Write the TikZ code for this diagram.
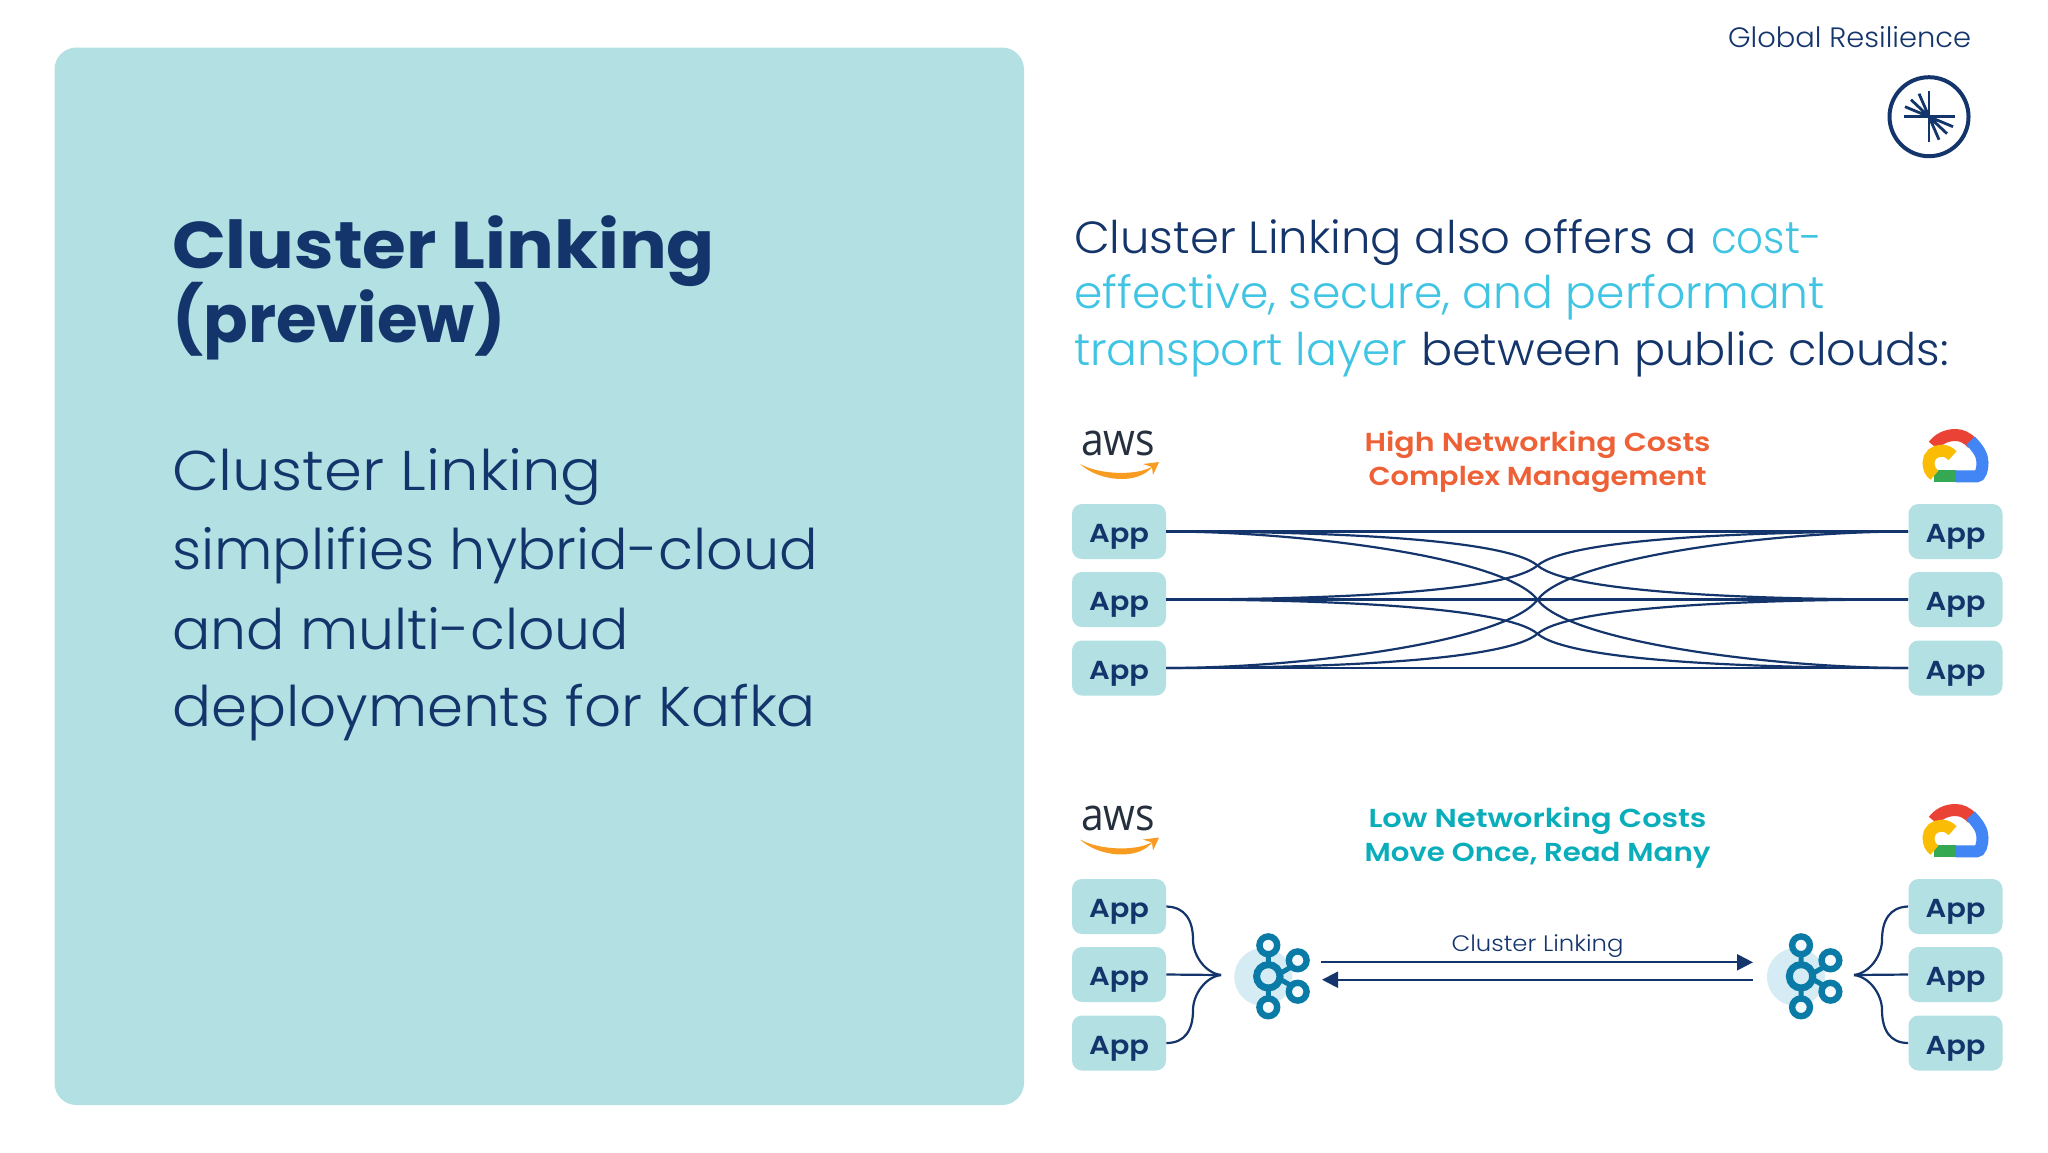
\documentclass[tikz,border=0pt]{standalone}
\usepackage{fontspec}
\setmainfont{Poppins}
\newfontfamily\lightf{Poppins Light}
\newfontfamily\semif{Poppins SemiBold}
\newfontfamily\awsf{Open Sans}
\usetikzlibrary{arrows.meta}
\definecolor{navy}{HTML}{14356B}
\definecolor{panel}{HTML}{B2E0E3}
\definecolor{sky}{HTML}{3FC4E4}
\definecolor{hot}{HTML}{EE6036}
\definecolor{teal2}{HTML}{0AAEBB}
\definecolor{kafka}{HTML}{0A7BA6}
\definecolor{kafkabg}{HTML}{D6ECF4}
\definecolor{awsdark}{HTML}{252F3E}
\definecolor{awsor}{HTML}{F79C20}
\definecolor{gred}{HTML}{EA4335}
\definecolor{gblue}{HTML}{4285F4}
\definecolor{gyel}{HTML}{FBBC05}
\definecolor{ggreen}{HTML}{34A853}
\newdimen\pxu \pxu=0.5pt
\newcommand{\fitw}[2]{\resizebox{#1\pxu}{\height}{#2}}
\tikzset{
  txt/.style={anchor=base west,inner sep=0pt,outer sep=0pt,text=navy},
  ctr/.style={anchor=base,inner sep=0pt,outer sep=0pt},
  appbox/.style={fill=panel,rounded corners=5pt,minimum width=47pt,minimum height=27.5pt,inner sep=0pt,
    text=navy,text height=11.4pt,text depth=0pt,font=\fontsize{13}{13}\selectfont\semif},
  link/.style={draw=navy,line width=1.1pt},
  flow/.style={draw=navy,line width=1.1pt,-{Triangle[length=8pt,width=8pt]}},
  awslogo/.pic={
    \node[ctr,text=awsdark,font=\fontsize{22.5}{22.5}\selectfont\awsf] (t) at (0,0) {\fitw{74}{aws}};
    \fill[awsor] (-38,9) .. controls (-20,26) and (20,31) .. (35,11) .. controls (20,21) and (-18,20) .. (-38,9) -- cycle;
    \fill[awsor] (25,9) -- (41,7) -- (35,20) -- (34,12) -- cycle;
  },
  gcloud/.pic={
    \begin{scope}[line width=6pt]
    \draw[gred] (-22,-10) .. controls (-17,-17) and (-9,-20.7) .. (0,-20.7) .. controls (6,-20.7) and (12,-18) .. (17,-12);
    \draw[gblue] (0,20.7) -- (21,20.7) .. controls (25,20.7) and (27,14) .. (27,7) .. controls (27,0) and (23,-7) .. (15,-15);
    \draw[ggreen] (-22,20.7) -- (0,20.7);
    \draw[gyel] (-21,19.5) .. controls (-25,17) and (-27,12) .. (-27,7) .. controls (-27,0) and (-21,-5) .. (-14,-5) .. controls (-9,-5) and (-6,-3) .. (-3,0);
    \end{scope}
  },
  kafkaicon/.pic={
    \fill[kafkabg] (-5,0.7) circle[radius=29];
    \draw[kafka,line width=2.5pt] (0,-22) -- (0,22) (12,-3) -- (24,-10) (12,3) -- (24,10);
    \filldraw[draw=kafka,fill=kafkabg,line width=3.5pt] (0,0) circle[radius=11.7];
    \foreach \a/\b in {0/-31,0/31,29.4/-16,29.4/15.4}{
      \filldraw[draw=kafka,fill=kafkabg!30!white,line width=3.2pt] (\a,\b) circle[radius=8.9];
    }
  },
  confluent/.pic={
    \draw[navy,line width=2pt] (0,0) circle[radius=39.5];
    \begin{scope}[navy,line width=1.4pt]
    \draw (0,-25.5) -- (0,25) (-25.5,0) -- (25.5,0);
    \draw (0,0) -- (-24,-10) (0,0) -- (-18,-17) (0,0) -- (-10,-23);
    \draw (0,0) -- (24,10) (0,0) -- (18,17) (0,0) -- (10,23);
    \end{scope}
  }
}
\begin{document}
\begin{tikzpicture}[x=0.5pt,y=-0.5pt]
\useasboundingbox (0,0) rectangle (2048,1152);
\fill[white] (0,0) rectangle (2048,1152);
\fill[panel,rounded corners=11pt] (54.5,47.5) rectangle (1024,1105);

\node[txt,font=\fontsize{33}{33}\selectfont\bfseries] (ti1) at (172,268) {\fitw{543}{Cluster Linking}};
\node[txt,font=\fontsize{33}{33}\selectfont\bfseries] (ti2) at (172,342) {\fitw{334}{(preview)}};

\node[txt,font=\fontsize{28}{28}\selectfont\lightf] (b1) at (172,490) {\fitw{430}{Cluster Linking}};
\node[txt,font=\fontsize{28}{28}\selectfont\lightf] (b2) at (172,569.5) {\fitw{646}{simplifies hybrid-cloud}};
\node[txt,font=\fontsize{28}{28}\selectfont\lightf] (b3) at (172,649.5) {\fitw{457}{and multi-cloud}};
\node[txt,font=\fontsize{28}{28}\selectfont\lightf] (b4) at (172,726.5) {\fitw{644}{deployments for Kafka}};

\node[txt,font=\fontsize{14}{14}\selectfont\lightf] (gr) at (1728,47) {\fitw{243}{Global Resilience}};
\pic at (1929,116.7) {confluent};

\node[txt,font=\fontsize{22.5}{22.5}\selectfont\lightf] (r1) at (1074,253.5) {\fitw{623}{Cluster Linking also offers a}\hspace{7pt}\fitw{111}{\textcolor{sky}{cost-}}};
\node[txt,text=sky,font=\fontsize{22.5}{22.5}\selectfont\lightf] (r2) at (1074,308.5) {\fitw{751}{effective, secure, and performant}};
\node[txt,font=\fontsize{22.5}{22.5}\selectfont\lightf] (r3) at (1074,365) {\fitw{333}{\textcolor{sky}{transport layer}}\hspace{7pt}\fitw{528}{between public clouds:}};

\pic at (1118,455) {awslogo};
\pic at (1118,830.5) {awslogo};
\pic at (1955.5,455.7) {gcloud};
\pic at (1955.5,830.7) {gcloud};

\node[ctr,text=hot,font=\fontsize{13}{13}\selectfont\semif] (c1) at (1537.5,451.7) {\fitw{346}{High Networking Costs}};
\node[ctr,text=hot,font=\fontsize{13}{13}\selectfont\semif] (c2) at (1537.5,485.7) {\fitw{338}{Complex Management}};
\node[ctr,text=teal2,font=\fontsize{13}{13}\selectfont\semif] (c3) at (1537.5,827.7) {\fitw{338}{Low Networking Costs}};
\node[ctr,text=teal2,font=\fontsize{13}{13}\selectfont\semif] (c4) at (1537.5,861.7) {\fitw{346}{Move Once, Read Many}};

% upper apps
\foreach \n/\y in {1/531.5,2/599.5,3/668}{
  \node[appbox] (la\n) at (1119,\y) {\fitw{60}{App}};
  \node[appbox] (rb\n) at (1955.5,\y) {\fitw{60}{App}};
}
\coordinate (xu) at (1537.5,565.5);
\coordinate (xm) at (1537.5,599.75);
\coordinate (xd) at (1537.5,633.75);
\draw[link] (la1.east) -- (rb1.west);
\draw[link] (la2.east) -- (rb2.west);
\draw[link] (la3.east) -- (rb3.west);
\draw[link] (la1.east) .. controls (1320,531.5) and (1505,538) .. (xu) .. controls (1570,593) and (1755,599.5) .. (rb2.west);
\draw[link] (la2.east) .. controls (1320,599.5) and (1505,593) .. (xu) .. controls (1570,538) and (1755,531.5) .. (rb1.west);
\draw[link] (la2.east) .. controls (1320,599.5) and (1505,606) .. (xd) .. controls (1570,661.5) and (1755,668) .. (rb3.west);
\draw[link] (la3.east) .. controls (1320,668) and (1505,661.5) .. (xd) .. controls (1570,606) and (1755,599.5) .. (rb2.west);
\draw[link] (la1.east) .. controls (1300,531.5) and (1505,557) .. (xm) .. controls (1570,642.5) and (1775,668) .. (rb3.west);
\draw[link] (la3.east) .. controls (1300,668) and (1505,642.5) .. (xm) .. controls (1570,557) and (1775,531.5) .. (rb1.west);

% lower apps
\foreach \n/\y in {1/906.5,2/974.5,3/1043}{
  \node[appbox] (lc\n) at (1119,\y) {\fitw{60}{App}};
  \node[appbox] (rd\n) at (1955.5,\y) {\fitw{60}{App}};
}
\pic at (1268.3,976.3) {kafkaicon};
\pic at (1801,976.3) {kafkaicon};
\coordinate (jl) at (1221,975);
\coordinate (jr) at (1854,975);
\draw[link] (lc2.east) -- (jl);
\draw[link] (lc1.east) .. controls (1185,907) and (1193,920) .. (1193,940) .. controls (1193,955) and (1205,973) .. (jl);
\draw[link] (lc3.east) .. controls (1185,1043) and (1193,1030) .. (1193,1010) .. controls (1193,995) and (1205,977) .. (jl);
\draw[link] (rd2.west) -- (jr);
\draw[link] (rd1.west) .. controls (1890,907) and (1882,920) .. (1882,940) .. controls (1882,955) and (1870,973) .. (jr);
\draw[link] (rd3.west) .. controls (1890,1043) and (1882,1030) .. (1882,1010) .. controls (1882,995) and (1870,977) .. (jr);

\coordinate (al) at (1321,962.3);
\coordinate (ar) at (1753,962.3);
\coordinate (bl) at (1322,979.7);
\coordinate (br) at (1753,979.7);
\draw[flow] (al) -- (ar);
\draw[flow] (br) -- (bl);
\node[ctr,text=navy,font=\fontsize{11.2}{11.2}\selectfont\lightf] (cl) at (1537.5,951.7) {\fitw{172}{Cluster Linking}};
\end{tikzpicture}
\end{document}
